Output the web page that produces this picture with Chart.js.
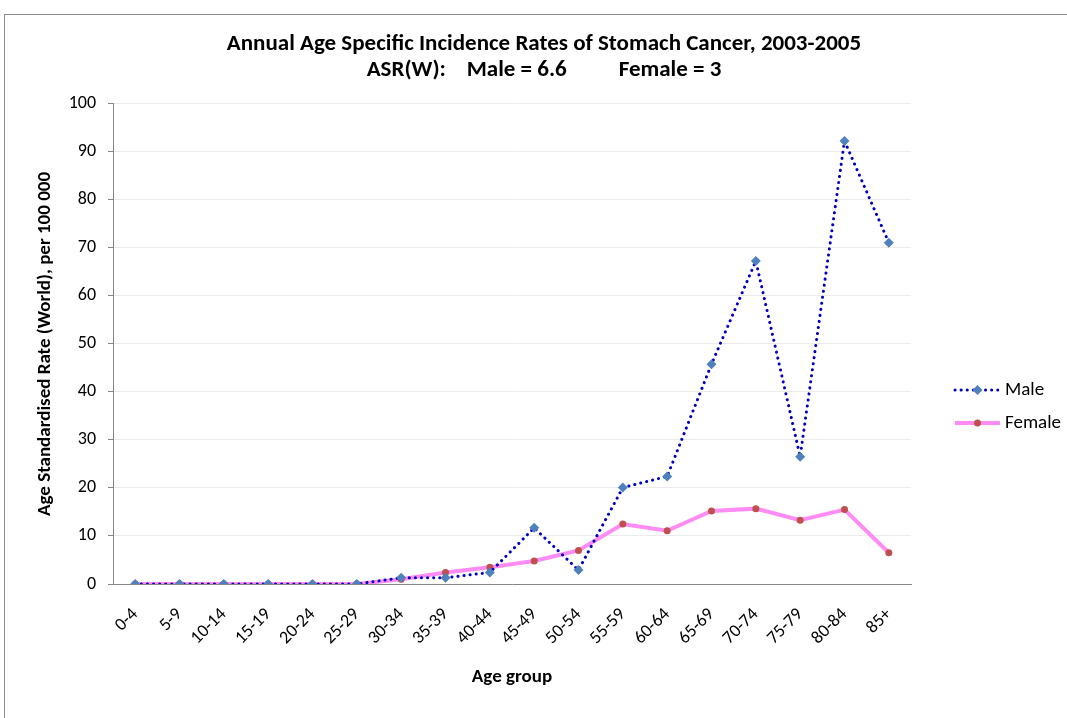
<!DOCTYPE html>
<html>
<head>
<meta charset="utf-8">
<script src="https://cdn.jsdelivr.net/npm/chart.js@4"></script>
<style>
  body { margin: 0; background: #fff; }
  #frame { position: absolute; left: 4px; top: 14px; width: 1100px; height: 760px; border: 1px solid #8c8c8c; }
  #wrap { position: absolute; left: 0; top: 0; width: 1067px; height: 718px; }
</style>
</head>
<body>
<div id="frame"></div>
<div id="wrap"><canvas id="chart"></canvas></div>
<script>
// Grupos de edad
var ageGroups = ['0-4', '5-9', '10-14', '15-19', '20-24', '25-29', '30-34', '35-39', '40-44',
                 '45-49', '50-54', '55-59', '60-64', '65-69', '70-74', '75-79', '80-84', '85+'];
// Tasas por 100 000
var maleRates = [0, 0, 0, 0, 0, 0, 1.3, 1.3, 2.4, 11.7, 2.9, 20.1, 22.4, 45.8, 67.3, 26.5, 92.3, 71.1];
var femaleRates = [0, 0, 0, 0, 0, 0, 1.0, 2.4, 3.5, 4.8, 7.0, 12.5, 11.1, 15.2, 15.7, 13.3, 15.5, 6.5];
var titleLines = ['Annual Age Specific Incidence Rates of Stomach Cancer, 2003-2005',
                  'ASR(W):    Male = 6.6          Female = 3'];

var FONT = "Carlito, Calibri, 'Open Sans', sans-serif";

// Leyenda dibujada a mano: línea + marcador + texto, a la derecha del área del gráfico
var sideLegend = {
    id: 'sideLegend',
    afterDraw: function (chart) {
        var ctx = chart.ctx;
        var area = chart.chartArea;
        chart.data.datasets.forEach(function (ds, i) {
            var y = area.top + 286 + i * 33;
            var x0 = area.right + 44, x1 = x0 + 45, xm = (x0 + x1) / 2;
            ctx.save();
            ctx.strokeStyle = ds.borderColor;
            ctx.lineWidth = ds.borderWidth;
            ctx.lineCap = ds.borderCapStyle || 'butt';
            ctx.setLineDash(ds.borderDash || []);
            ctx.beginPath();
            ctx.moveTo(x0, y);
            ctx.lineTo(x1, y);
            ctx.stroke();
            ctx.setLineDash([]);
            ctx.fillStyle = ds.pointBackgroundColor;
            ctx.beginPath();
            var r = ds.pointRadius;
            if (ds.pointStyle === 'rectRot') {
                ctx.moveTo(xm, y - r);
                ctx.lineTo(xm + r, y);
                ctx.lineTo(xm, y + r);
                ctx.lineTo(xm - r, y);
            } else {
                ctx.arc(xm, y, r, 0, Math.PI * 2);
            }
            ctx.fill();
            ctx.fillStyle = '#000';
            ctx.font = '19px ' + FONT;
            ctx.textBaseline = 'middle';
            ctx.textAlign = 'left';
            ctx.fillText(ds.label, x1 + 5, y);
            ctx.restore();
        });
    }
};

var ctx = document.getElementById('chart').getContext('2d');

var data = {
    labels: ageGroups,
    datasets: [
        {
            label: 'Male',
            data: maleRates,
            borderColor: '#0000c0',
            borderWidth: 3,
            borderDash: [0.1, 6],
            borderCapStyle: 'round',
            pointStyle: 'rectRot',
            pointRadius: 5,
            pointBackgroundColor: '#4f81bd',
            pointBorderWidth: 0,
            tension: 0
        },
        {
            label: 'Female',
            data: femaleRates,
            borderColor: '#ff8cf5',
            borderWidth: 4,
            pointStyle: 'circle',
            pointRadius: 3.5,
            pointBackgroundColor: '#c0504d',
            pointBorderWidth: 0,
            tension: 0
        }
    ]
};

var options = {
    responsive: true,
    maintainAspectRatio: false,
    animation: false,
    layout: {
        padding: { left: 22, right: 1, top: 0, bottom: 28 }
    },
    plugins: {
        title: {
            display: true,
            text: titleLines,
            color: '#000',
            font: { family: FONT, size: 23, weight: 'bold', lineHeight: 1.13 },
            padding: { top: 31, bottom: 21 }
        },
        legend: { display: false },
        tooltip: { enabled: false }
    },
    scales: {
        x: {
            offset: true,
            afterFit: function (s) { s.height = 106; },
            grid: { display: false },
            border: { color: '#868686' },
            ticks: {
                color: '#000',
                font: { family: FONT, size: 18 },
                minRotation: 45,
                maxRotation: 45,
                autoSkip: false,
                padding: 12
            },
            title: {
                display: true,
                text: 'Age group',
                color: '#000',
                font: { family: FONT, size: 19, weight: 'bold' },
                padding: { top: 4, bottom: 1 }
            }
        },
        y: {
            min: 0,
            max: 100,
            afterFit: function (s) { s.width = 91; },
            ticks: {
                stepSize: 10,
                color: '#000',
                font: { family: FONT, size: 18 },
                padding: 12
            },
            grid: { color: '#ebebeb', tickColor: '#868686', tickLength: 5 },
            border: { color: '#868686' },
            title: {
                display: true,
                text: 'Age Standardised Rate (World), per 100 000',
                color: '#000',
                font: { family: FONT, size: 19, weight: 'bold' },
                padding: { top: 12, bottom: 0 }
            }
        },
        // eje vacío que reserva el espacio de la leyenda
        legendSpace: {
            type: 'linear',
            position: 'right',
            display: true,
            afterFit: function (s) { s.width = 155; },
            grid: { display: false },
            border: { display: false },
            ticks: { display: false }
        }
    }
};

var chart = new Chart(ctx, {
    type: 'line',
    data: data,
    options: options,
    plugins: [sideLegend]
});
</script>
</body>
</html>
